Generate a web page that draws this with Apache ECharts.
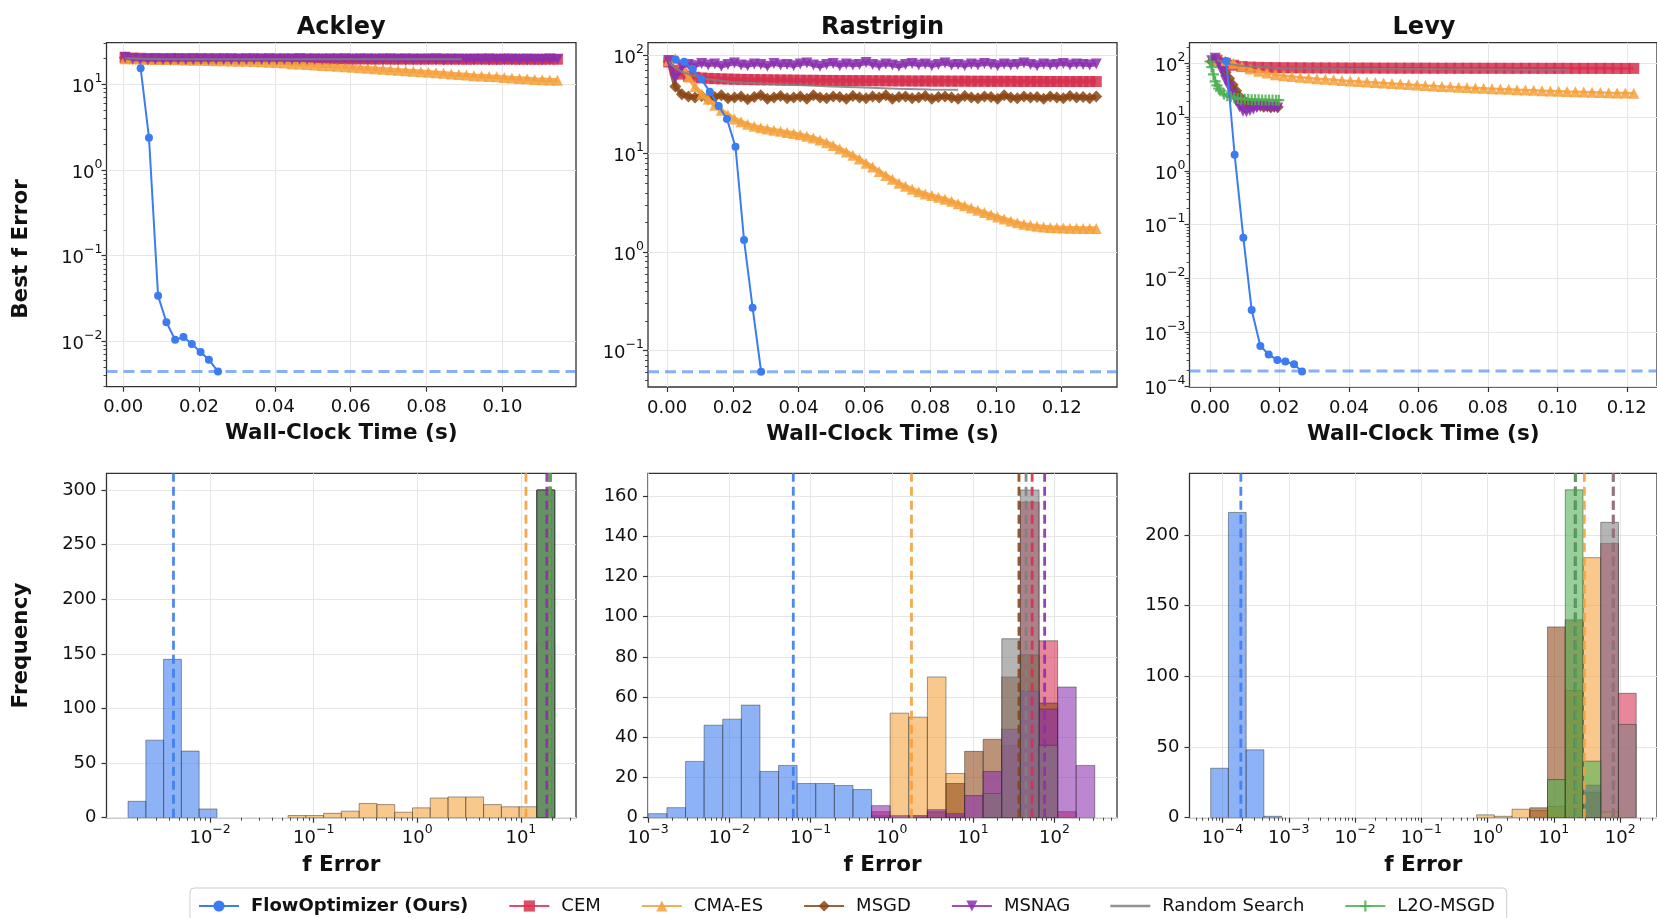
<!DOCTYPE html>
<html>
<head>
<meta charset="utf-8">
<title>Optimizer comparison: Ackley, Rastrigin, Levy</title>
<script src="https://cdn.jsdelivr.net/npm/echarts@6/dist/echarts.min.js"></script>
<style>
  html, body { margin: 0; padding: 0; background: #ffffff; }
  #chart { width: 1657px; height: 918px; }
</style>
</head>
<body>
<div id="chart"></div>
<script>
// ---------------- Methods ----------------
const methods = ['FlowOptimizer (Ours)', 'CEM', 'CMA-ES', 'MSGD', 'MSNAG', 'Random Search', 'L2O-MSGD'];
const problems = ['Ackley', 'Rastrigin', 'Levy'];

// ---------------- Convergence traces (time in s, best f error) ----------------
const sharedTime = [
  0.0005, 0.0025, 0.0045, 0.0065, 0.0085, 0.0105, 0.0125, 0.0145, 0.0165, 0.0185,
  0.0205, 0.0225, 0.0245, 0.0265, 0.0285, 0.0305, 0.0325, 0.0345, 0.0365, 0.0385,
  0.0405, 0.0425, 0.0445, 0.0465, 0.0485, 0.0505, 0.0525, 0.0545, 0.0565, 0.0585,
  0.0605, 0.0625, 0.0645, 0.0665, 0.0685, 0.0705, 0.0725, 0.0745, 0.0765, 0.0785,
  0.0805, 0.0825, 0.0845, 0.0865, 0.0885, 0.0905, 0.0925, 0.0945, 0.0965, 0.0985,
  0.1005, 0.1025, 0.1045, 0.1065, 0.1085, 0.1105, 0.1125, 0.1145, 0.1165, 0.1185,
  0.1205, 0.1225, 0.1245, 0.1265, 0.1285, 0.1305
];

// Ackley
const ackleyCEM = [
  20.4, 20.2, 20.1, 20.0, 20.0, 19.9, 20.0, 19.9, 19.9, 20.0,
  19.9, 19.9, 19.8, 19.9, 19.9, 19.8, 19.9, 19.8, 19.8, 19.9,
  19.8, 19.8, 19.8, 19.9, 19.8, 19.8, 19.7, 19.8, 19.8, 19.8,
  19.7, 19.8, 19.8, 19.7, 19.8, 19.7, 19.7, 19.8, 19.7, 19.7,
  19.7, 19.8, 19.7, 19.7, 19.7, 19.6, 19.7, 19.7, 19.7, 19.6,
  19.7, 19.7, 19.6, 19.7, 19.6, 19.6, 19.7, 19.6
];
const ackleyCMAES = [
  19.9, 19.8, 19.7, 19.6, 19.5, 19.5, 19.4, 19.3, 19.2, 19.1,
  19.0, 18.9, 18.8, 18.8, 18.7, 18.6, 18.5, 18.4, 18.3, 18.1,
  17.9, 17.7, 17.4, 17.2, 17.0, 16.8, 16.6, 16.4, 16.2, 16.0,
  15.8, 15.6, 15.4, 15.2, 15.0, 14.8, 14.6, 14.4, 14.2, 14.0,
  13.8, 13.6, 13.4, 13.2, 13.0, 12.8, 12.6, 12.5, 12.3, 12.2,
  12.0, 11.8, 11.7, 11.6, 11.4, 11.3, 11.2, 11.1
];
const ackleyMSGD = [
  20.5, 19.9, 19.7, 19.6, 19.7, 19.6, 19.5, 19.7, 19.6, 19.6,
  19.7, 19.5, 19.6, 19.7, 19.6, 19.5, 19.6, 19.7, 19.6, 19.6,
  19.5, 19.7, 19.6, 19.6, 19.5, 19.6, 19.7, 19.6, 19.5, 19.6,
  19.6, 19.7, 19.5, 19.6, 19.6, 19.7, 19.6, 19.5, 19.6, 19.6,
  19.7, 19.6, 19.5, 19.6, 19.6, 19.7, 19.6, 19.6, 19.5, 19.6,
  19.7, 19.6, 19.6, 19.5, 19.6, 19.6, 19.6
];
const ackleyMSNAG = [
  20.6, 19.9, 19.6, 19.5, 19.6, 19.4, 19.5, 19.6, 19.4, 19.5,
  19.5, 19.4, 19.6, 19.5, 19.4, 19.5, 19.5, 19.6, 19.4, 19.5,
  19.5, 19.4, 19.5, 19.6, 19.5, 19.4, 19.5, 19.5, 19.4, 19.6,
  19.5, 19.5, 19.4, 19.5, 19.5, 19.6, 19.4, 19.5, 19.5, 19.4,
  19.5, 19.6, 19.5, 19.4, 19.5, 19.5, 19.4, 19.5, 19.6, 19.5,
  19.4, 19.5, 19.5, 19.4, 19.5, 19.5, 19.6, 19.5
];
const ackleyL2O = [20.3, 20.0, 19.9, 19.8, 19.8, 19.7, 19.7, 19.7, 19.6, 19.6];
const ackleyRandomTime = [0.0005, 0.005, 0.01, 0.02, 0.03, 0.04, 0.05, 0.06, 0.07, 0.08, 0.0893];
const ackleyRandom = [20.1, 19.8, 19.7, 19.6, 19.6, 19.6, 19.6, 19.6, 19.6, 19.6, 19.6];
const ackleyFlowTime = [0.0046, 0.0068, 0.0092, 0.0114, 0.0137, 0.0159, 0.0181, 0.0204, 0.0226, 0.0250];
const ackleyFlow = [15.4, 2.38, 0.0339, 0.0167, 0.0104, 0.0112, 0.0093, 0.0075, 0.0061, 0.00443];

// Rastrigin
const rastriginCEM = [
  85, 70, 64, 61, 59.5, 58.5, 58, 57.6, 57.3, 57,
  56.8, 56.6, 56.4, 56.2, 56.1, 56, 55.9, 55.8, 55.7, 55.6,
  55.5, 55.4, 55.4, 55.3, 55.2, 55.2, 55.1, 55, 55, 54.9,
  54.9, 54.8, 54.8, 54.7, 54.7, 54.6, 54.6, 54.5, 54.5, 54.5,
  54.4, 54.4, 54.4, 54.3, 54.3, 54.3, 54.2, 54.2, 54.2, 54.1,
  54.1, 54.1, 54.1, 54, 54, 54, 54, 53.9, 53.9, 53.9,
  53.9, 53.8, 53.8, 53.8, 53.8, 53.8
];
const rastriginCMAES = [
  88, 92, 75, 60, 48, 40, 35.5, 31, 27.5, 24.6,
  22.5, 21, 19.8, 18.9, 18.3, 17.8, 17.3, 16.9, 16.4, 16.0,
  15.5, 15.0, 14.4, 13.7, 12.9, 12.1, 11.2, 10.4, 9.6, 8.8,
  8.0, 7.3, 6.6, 6.0, 5.5, 5.0, 4.65, 4.35, 4.1, 3.9,
  3.75, 3.6, 3.45, 3.28, 3.1, 2.95, 2.8, 2.66, 2.52, 2.4,
  2.28, 2.17, 2.07, 1.99, 1.92, 1.87, 1.83, 1.8, 1.78, 1.77,
  1.76, 1.75, 1.75, 1.74, 1.74, 1.74
];
const rastriginMSGD = [
  86, 48, 40, 38, 37, 38.5, 36, 37.5, 39, 36.5,
  37, 38, 35.5, 37.5, 39, 36, 37, 38.5, 36.5, 37,
  38, 36, 39, 37, 36.5, 38, 37.5, 36, 38.5, 37,
  36.5, 38, 37, 39, 36, 37.5, 38, 36.5, 37, 38.5,
  36, 37.5, 38, 37, 36, 38.5, 37, 36.5, 38, 37.5,
  36, 39, 37, 36.5, 38, 37, 37.5, 36, 38, 37,
  36.5, 38.5, 37, 37.5, 36.5, 38
];
const rastriginMSNAG = [
  88, 58, 76, 80, 78, 82, 79, 81, 77, 80,
  83, 79, 78, 81, 80, 77, 82, 79, 80, 78,
  81, 83, 79, 77, 80, 82, 78, 81, 79, 80,
  84, 80, 78, 81, 79, 77, 80, 82, 79, 81,
  78, 80, 83, 79, 80, 78, 81, 79, 82, 80,
  78, 81, 79, 80, 83, 80, 78, 81, 79, 80,
  82, 79, 81, 80, 79, 81
];
const rastriginRandomTime = [0.0005, 0.002, 0.004, 0.007, 0.012, 0.02, 0.03, 0.04, 0.05, 0.06, 0.07, 0.08, 0.0885];
const rastriginRandom = [86, 76, 69, 63, 57, 53, 51, 49.5, 48, 46.8, 45.6, 44.8, 44.3];
const rastriginFlowTime = [0.0026, 0.0052, 0.0078, 0.0104, 0.0130, 0.0157, 0.0182, 0.0208, 0.0234, 0.0260, 0.0286];
const rastriginFlow = [90, 85.5, 72, 57, 42.5, 30.4, 22.4, 11.7, 1.33, 0.273, 0.0612];

// Levy
const levyTime = [
  0.0020, 0.0044, 0.0068, 0.0092, 0.0116, 0.0140, 0.0164, 0.0188, 0.0212, 0.0236,
  0.0260, 0.0284, 0.0308, 0.0332, 0.0356, 0.0380, 0.0404, 0.0428, 0.0452, 0.0476,
  0.0500, 0.0524, 0.0548, 0.0572, 0.0596, 0.0620, 0.0644, 0.0668, 0.0692, 0.0716,
  0.0740, 0.0764, 0.0788, 0.0812, 0.0836, 0.0860, 0.0884, 0.0908, 0.0932, 0.0956,
  0.0980, 0.1004, 0.1028, 0.1052, 0.1076, 0.1100, 0.1124, 0.1148, 0.1172, 0.1196,
  0.1220
];
const levyCEM = [
  115, 100, 92, 87, 85, 84, 83.4, 83, 82.7, 82.5,
  82.3, 82.1, 82, 81.9, 81.8, 81.7, 81.6, 81.5, 81.5, 81.4,
  81.3, 81.3, 81.2, 81.2, 81.1, 81.1, 81, 81, 81, 80.9,
  80.9, 80.9, 80.8, 80.8, 80.8, 80.7, 80.7, 80.7, 80.7, 80.6,
  80.6, 80.6, 80.6, 80.5, 80.5, 80.5, 80.5, 80.5, 80.4, 80.4,
  80.4
];
const levyCMAES = [
  118, 112, 100, 88, 78, 71, 66, 61.2, 58.7, 56.6,
  54.8, 53.2, 51.7, 50.4, 49.2, 48.1, 47, 46, 45, 44,
  43, 42, 41.1, 40.2, 39.4, 38.6, 37.9, 37.2, 36.5, 35.9,
  35.3, 34.8, 34.3, 33.8, 33.3, 32.8, 32.3, 31.8, 31.4, 31,
  30.6, 30.2, 29.8, 29.5, 29.2, 28.9, 28.6, 28.3, 28.1, 27.9,
  27.7
];
const levyShortTime = [
  0.0005, 0.0015, 0.0025, 0.0035, 0.0045, 0.0055, 0.0065, 0.0075, 0.0085, 0.0095,
  0.0105, 0.0115, 0.0125, 0.0135, 0.0145, 0.0155, 0.0165, 0.0175, 0.0185, 0.0195
];
const levyMSGD = [108, 118, 112, 90, 68, 52, 40, 31, 24, 20.5, 18.5, 17.4, 16.8, 16.2, 16.6, 15.6, 16.1, 15.2, 15.8, 15.4];
const levyMSNAG = [112, 124, 100, 70, 48, 36, 27, 20, 15.5, 12.8, 12.5, 13.2, 14.2, 15, 15.6, 15.9, 15.3, 14.9, 15.2, 14.8];
const levyL2OTime = [
  0.0000, 0.0005, 0.0010, 0.0015, 0.0020, 0.0025, 0.0030, 0.0040, 0.0050, 0.0060,
  0.0070, 0.0080, 0.0090, 0.0100, 0.0110, 0.0120, 0.0130, 0.0140, 0.0150, 0.0160,
  0.0170, 0.0180, 0.0190, 0.0198
];
const levyL2O = [
  108, 85, 62, 46, 39, 34, 31, 27, 25, 23.8,
  22.8, 22.2, 21.8, 21.5, 21.3, 21.1, 21.0, 20.9, 20.8, 20.8,
  20.7, 20.7, 20.6, 20.6
];
const levyRandomTime = [0.002, 0.005, 0.01, 0.02, 0.04, 0.06, 0.08, 0.1035];
const levyRandom = [115, 98, 88, 82, 79, 78, 77, 76];
const levyFlowTime = [0.0047, 0.0071, 0.0096, 0.0120, 0.0145, 0.0169, 0.0194, 0.0217, 0.0242, 0.0265];
const levyFlow = [110, 1.99, 0.0573, 0.00258, 0.000556, 0.000384, 0.000305, 0.000284, 0.000254, 0.000185];

// ---------------- Final-error histograms (log10 bin edges, counts per bin) ----------------
const ackleyBinExp = [-2.792, -2.620, -2.449, -2.277, -2.106, -1.934, -1.762, -1.591, -1.419, -1.248, -1.076, -0.904, -0.733, -0.561, -0.390, -0.218, -0.046, 0.125, 0.297, 0.468, 0.640, 0.812, 0.983, 1.155, 1.326];
const rastriginBinExp = [-2.996, -2.767, -2.538, -2.310, -2.081, -1.852, -1.623, -1.394, -1.166, -0.937, -0.708, -0.479, -0.250, -0.022, 0.207, 0.436, 0.665, 0.894, 1.122, 1.351, 1.580, 1.809, 2.038, 2.266, 2.495];
const levyBinExp = [-4.178, -3.911, -3.643, -3.376, -3.108, -2.841, -2.573, -2.306, -2.038, -1.771, -1.503, -1.236, -0.968, -0.701, -0.433, -0.166, 0.102, 0.369, 0.637, 0.904, 1.172, 1.439, 1.707, 1.974, 2.242];

const ackleyFlowCounts  = [15, 71, 145, 61, 8, 0, 0, 0, 0, 0, 0, 0, 0, 0, 0, 0, 0, 0, 0, 0, 0, 0, 0, 0];
const ackleyCEMCounts   = [0, 0, 0, 0, 0, 0, 0, 0, 0, 0, 0, 0, 0, 0, 0, 0, 0, 0, 0, 0, 0, 0, 0, 300];
const ackleyCMACounts   = [0, 0, 0, 0, 0, 0, 0, 0, 0, 2, 2, 4, 6, 13, 12, 5, 9, 18, 19, 19, 12, 10, 10, 160];
const ackleyMSGDCounts  = [0, 0, 0, 0, 0, 0, 0, 0, 0, 0, 0, 0, 0, 0, 0, 0, 0, 0, 0, 0, 0, 0, 0, 300];
const ackleyMSNAGCounts = [0, 0, 0, 0, 0, 0, 0, 0, 0, 0, 0, 0, 0, 0, 0, 0, 0, 0, 0, 0, 0, 0, 0, 300];
const ackleyRandomCounts= [0, 0, 0, 0, 0, 0, 0, 0, 0, 0, 0, 0, 0, 0, 0, 0, 0, 0, 0, 0, 0, 0, 0, 300];
const ackleyL2OCounts   = [0, 0, 0, 0, 0, 0, 0, 0, 0, 0, 0, 0, 0, 0, 0, 0, 0, 0, 0, 0, 0, 0, 0, 300];

const rastriginFlowCounts  = [2, 5, 28, 46, 49, 56, 23, 26, 17, 17, 16, 14, 1, 0, 0, 0, 0, 0, 0, 0, 0, 0, 0, 0];
const rastriginCEMCounts   = [0, 0, 0, 0, 0, 0, 0, 0, 0, 0, 0, 0, 3, 0, 1, 0, 1, 0, 11, 36, 157, 88, 3, 0];
const rastriginCMACounts   = [0, 0, 0, 0, 0, 0, 0, 0, 0, 0, 0, 0, 0, 52, 50, 70, 22, 0, 0, 0, 0, 0, 0, 0];
const rastriginMSGDCounts  = [0, 0, 0, 0, 0, 0, 0, 0, 0, 0, 0, 0, 0, 0, 0, 3, 17, 33, 39, 70, 81, 57, 0, 0];
const rastriginMSNAGCounts = [0, 0, 0, 0, 0, 0, 0, 0, 0, 0, 0, 0, 6, 1, 1, 4, 2, 11, 23, 44, 63, 54, 65, 26];
const rastriginRandomCounts= [0, 0, 0, 0, 0, 0, 0, 0, 0, 0, 0, 0, 0, 0, 0, 0, 0, 0, 12, 89, 163, 36, 0, 0];

const levyFlowCounts  = [35, 216, 48, 1, 0, 0, 0, 0, 0, 0, 0, 0, 0, 0, 0, 0, 0, 0, 0, 0, 0, 0, 0, 0];
const levyCEMCounts   = [0, 0, 0, 0, 0, 0, 0, 0, 0, 0, 0, 0, 0, 0, 0, 0, 0, 0, 0, 0, 0, 0, 194, 88];
const levyCMACounts   = [0, 0, 0, 0, 0, 0, 0, 0, 0, 0, 0, 0, 0, 0, 0, 2, 1, 6, 5, 8, 90, 184, 4, 0];
const levyMSGDCounts  = [0, 0, 0, 0, 0, 0, 0, 0, 0, 0, 0, 0, 0, 0, 0, 0, 0, 0, 7, 135, 140, 18, 0, 0];
const levyMSNAGCounts = [0, 0, 0, 0, 0, 0, 0, 0, 0, 0, 0, 0, 0, 0, 0, 0, 0, 0, 0, 0, 0, 23, 0, 0];
const levyRandomCounts= [0, 0, 0, 0, 0, 0, 0, 0, 0, 0, 0, 0, 0, 0, 0, 0, 0, 0, 0, 0, 0, 0, 209, 66];
const levyL2OCounts   = [0, 0, 0, 0, 0, 0, 0, 0, 0, 0, 0, 0, 0, 0, 0, 0, 0, 0, 0, 27, 232, 40, 0, 0];

// Mean final error per method (same order as `methods`; null = not run)
const ackleyMeans    = [0.00443, 19.0, 11.2, 19.2, 17.8, 19.1, 19.1];
const rastriginMeans = [0.0612, 53.0, 1.74, 36.5, 75.5, 44.6, null];
const levyMeans      = [0.000189, 78.7, 28.8, 21.0, 21.2, 78.7, 21.3];

// ---------------- Tick values ----------------
const ackleyTimeTicks = [0, 0.02, 0.04, 0.06, 0.08, 0.10];
const rastriginTimeTicks = [0, 0.02, 0.04, 0.06, 0.08, 0.10, 0.12];
const levyTimeTicks = [0, 0.02, 0.04, 0.06, 0.08, 0.10, 0.12];
const ackleyErrDecades = [-2, -1, 0, 1];
const rastriginErrDecades = [-1, 0, 1, 2];
const levyErrDecades = [-4, -3, -2, -1, 0, 1, 2];
const ackleyHistDecades = [-2, -1, 0, 1];
const rastriginHistDecades = [-3, -2, -1, 0, 1, 2];
const levyHistDecades = [-4, -3, -2, -1, 0, 1, 2];
const ackleyFreqTicks = [0, 50, 100, 150, 200, 250, 300];
const rastriginFreqTicks = [0, 20, 40, 60, 80, 100, 120, 140, 160];
const levyFreqTicks = [0, 50, 100, 150, 200];

// ---------------- Layout and style ----------------
const FONT = 'DejaVu Sans';
const INK = '#111111';
const SPINE = '#333333';
const GRIDLINE = '#e6e6e6';
const colors = ['#3b7cf0', '#d7304f', '#f4a03a', '#8b4513', '#8b2fb0', '#808080', '#4caf50'];
const symbols = ['circle', 'rect', 'triangle', 'diamond', 'triangle', 'none', 'path://M0,4H10V6H0Z M4,0H6V10H4Z'];
const symbolRotations = [0, 0, 0, 0, 180, 0, 0];
const symbolSizes = [8, 11, 11, 12, 11, 0, 11];
const drawZ = [9, 3, 4, 2, 5, 6, 7];
// dense traces (Ackley, Rastrigin) are drawn with a heavier stroke than the sparser Levy ones
const panelStroke = [4.5, 4.5, 2.5];

const boxes = [
  { left: 106.5, top: 42.7, width: 469.5, height: 344 },
  { left: 648, top: 42.7, width: 469, height: 344.3 },
  { left: 1189.5, top: 42.7, width: 469, height: 344.3 },
  { left: 106.5, top: 473.3, width: 469.5, height: 344.4 },
  { left: 648, top: 473.3, width: 469, height: 344.4 },
  { left: 1189.5, top: 473.3, width: 469, height: 344.4 }
];
// axis limits: time (s) for the top row, log10 error for top y and bottom x, counts for bottom y
const timeLimits = [[-0.0044, 0.1194], [-0.0058, 0.1368], [-0.0059, 0.1287]];
const errExpLimits = [[-2.530, 1.485], [-1.368, 2.125], [-4.019, 2.383]];
const histExpLimits = [[-3.0, 1.532], [-3.0, 2.768], [-4.498, 2.556]];
const freqMax = [315.4, 171.3, 243.7];

// ---------------- Helpers ----------------
function pairs(xs, ys) { return ys.map((y, i) => [xs[i], y]); }
function minorExps(lim) {
  const out = [];
  for (let d = Math.floor(lim[0]); d <= Math.ceil(lim[1]); d++) {
    for (let k = 2; k <= 9; k++) {
      const v = d + Math.log10(k);
      if (v >= lim[0] && v <= lim[1]) out.push(v);
    }
  }
  return out;
}
function decadeLabel(v) {
  const e = Math.round(v);
  return '{b|10}{s|' + (e < 0 ? '\u2212' + (-e) : String(e)) + '}';
}
const decadeRich = {
  b: { fontSize: 18, fontFamily: FONT, color: INK, lineHeight: 24, verticalAlign: 'bottom' },
  s: { fontSize: 12.5, fontFamily: FONT, color: INK, lineHeight: 13, verticalAlign: 'top' }
};
const majorTick = (vals) => ({ show: true, inside: false, length: 5, customValues: vals, lineStyle: { color: SPINE, width: 1.2 } });
const minorTick = (vals) => ({ show: true, inside: false, length: 3, customValues: vals, lineStyle: { color: SPINE, width: 0.9 } });
const noLine = { show: false, onZero: false };
const gridLine = { show: true, lineStyle: { color: GRIDLINE, width: 1 } };
const nameStyle = { fontSize: 21.5, fontWeight: 'bold', fontFamily: FONT, color: INK };

const grids = boxes.map(b => Object.assign({ show: true, borderColor: SPINE, borderWidth: 1.3, backgroundColor: 'transparent', containLabel: false }, b));

const xAxes = [];
const yAxes = [];
// top row: linear time x, hidden log y used by the data, plus decade / minor tick axes
const timeTickSets = [ackleyTimeTicks, rastriginTimeTicks, levyTimeTicks];
const errDecadeSets = [ackleyErrDecades, rastriginErrDecades, levyErrDecades];
for (let p = 0; p < 3; p++) {
  const tl = timeLimits[p], el = errExpLimits[p];
  xAxes.push({
    type: 'value', gridIndex: p, position: 'bottom', min: tl[0], max: tl[1],
    axisLine: noLine, axisTick: majorTick(timeTickSets[p]),
    axisLabel: { customValues: timeTickSets[p], formatter: v => v.toFixed(2), margin: 12, fontSize: 18, fontFamily: FONT, color: INK },
    splitLine: gridLine,
    name: 'Wall-Clock Time (s)', nameLocation: 'middle', nameGap: 36, nameTextStyle: nameStyle
  });
  yAxes.push({ type: 'log', gridIndex: p, position: 'left', min: Math.pow(10, el[0]), max: Math.pow(10, el[1]), show: false, axisLine: noLine });
  yAxes.push({
    type: 'value', gridIndex: p, position: 'left', min: el[0], max: el[1],
    axisLine: noLine, axisTick: majorTick(errDecadeSets[p]),
    axisLabel: { customValues: errDecadeSets[p], formatter: decadeLabel, rich: decadeRich, margin: 4 },
    splitLine: gridLine
  });
  yAxes.push({
    type: 'value', gridIndex: p, position: 'left', min: el[0], max: el[1],
    axisLine: noLine, axisTick: minorTick(minorExps(el)), axisLabel: { show: false }, splitLine: { show: false }
  });
}
// bottom row: hidden log x used by the bars, decade / minor tick axes, linear frequency y
const histDecadeSets = [ackleyHistDecades, rastriginHistDecades, levyHistDecades];
const freqTickSets = [ackleyFreqTicks, rastriginFreqTicks, levyFreqTicks];
for (let q = 0; q < 3; q++) {
  const g = 3 + q, hl = histExpLimits[q];
  xAxes.push({ type: 'log', gridIndex: g, position: 'bottom', min: Math.pow(10, hl[0]), max: Math.pow(10, hl[1]), show: false, axisLine: noLine });
  xAxes.push({
    type: 'value', gridIndex: g, position: 'bottom', min: hl[0], max: hl[1],
    axisLine: noLine, axisTick: majorTick(histDecadeSets[q]),
    axisLabel: { customValues: histDecadeSets[q], formatter: decadeLabel, rich: decadeRich, margin: 6 },
    splitLine: gridLine,
    name: 'f Error', nameLocation: 'middle', nameGap: 37, nameTextStyle: nameStyle
  });
  xAxes.push({
    type: 'value', gridIndex: g, position: 'bottom', min: hl[0], max: hl[1],
    axisLine: noLine, axisTick: minorTick(minorExps(hl)), axisLabel: { show: false }, splitLine: { show: false }
  });
  yAxes.push({
    type: 'value', gridIndex: g, position: 'left', min: 0, max: freqMax[q],
    axisLine: noLine, axisTick: majorTick(freqTickSets[q]),
    axisLabel: { customValues: freqTickSets[q], margin: 10, fontSize: 18, fontFamily: FONT, color: INK },
    splitLine: gridLine
  });
}

// ---------------- Series ----------------
const series = [];
function trace(m, p, xs, ys, zOverride) {
  const color = colors[m];
  const hasSym = symbols[m] !== 'none';
  series.push({
    type: 'line', name: methods[m], xAxisIndex: p, yAxisIndex: p * 3,
    data: pairs(xs, ys),
    symbol: symbols[m], symbolSize: symbolSizes[m], symbolRotate: symbolRotations[m],
    showSymbol: hasSym, showAllSymbol: true,
    lineStyle: { color: color, width: (m === 0 || m === 5) ? 2 : panelStroke[p], opacity: m === 0 ? 1 : 0.85 },
    itemStyle: { color: color, opacity: m === 0 ? 1 : 0.85 },
    z: zOverride != null ? zOverride : drawZ[m], silent: true, animation: false, clip: true,
    emphasis: { disabled: true }
  });
}
function flowMeanLine(p, value) {
  const tl = timeLimits[p];
  series.push({
    type: 'line', name: 'FlowOptimizer final mean', xAxisIndex: p, yAxisIndex: p * 3,
    data: [[tl[0], value], [tl[1], value]], symbol: 'none',
    lineStyle: { color: 'rgba(59,124,240,0.6)', width: 3, type: [11, 6] },
    z: 8, silent: true, animation: false, emphasis: { disabled: true }
  });
}

// Ackley traces (the short L2O-MSGD trace sits underneath the flat bundle)
trace(6, 0, sharedTime, ackleyL2O, 1);
trace(1, 0, sharedTime, ackleyCEM);
trace(2, 0, sharedTime, ackleyCMAES);
trace(3, 0, sharedTime, ackleyMSGD);
trace(4, 0, sharedTime, ackleyMSNAG);
trace(5, 0, ackleyRandomTime, ackleyRandom);
trace(0, 0, ackleyFlowTime, ackleyFlow);
flowMeanLine(0, ackleyMeans[0]);
// Rastrigin traces
trace(1, 1, sharedTime, rastriginCEM);
trace(2, 1, sharedTime, rastriginCMAES);
trace(3, 1, sharedTime, rastriginMSGD);
trace(4, 1, sharedTime, rastriginMSNAG);
trace(5, 1, rastriginRandomTime, rastriginRandom);
trace(0, 1, rastriginFlowTime, rastriginFlow);
flowMeanLine(1, rastriginMeans[0]);
// Levy traces
trace(1, 2, levyTime, levyCEM);
trace(2, 2, levyTime, levyCMAES);
trace(3, 2, levyShortTime, levyMSGD);
trace(4, 2, levyShortTime, levyMSNAG);
trace(5, 2, levyRandomTime, levyRandom);
trace(6, 2, levyL2OTime, levyL2O);
trace(0, 2, levyFlowTime, levyFlow);
flowMeanLine(2, levyMeans[0]);

// Histograms
function hexToRgba(hex, a) {
  const n = parseInt(hex.slice(1), 16);
  return 'rgba(' + ((n >> 16) & 255) + ',' + ((n >> 8) & 255) + ',' + (n & 255) + ',' + a + ')';
}
function binsToData(binExp, counts) {
  const out = [];
  counts.forEach((c, i) => { if (c > 0) out.push([Math.pow(10, binExp[i]), Math.pow(10, binExp[i + 1]), c]); });
  return out;
}
function histPanel(q, binExp, countSets, means) {
  const xi = 3 + q * 3, yi = 9 + q;
  countSets.forEach((counts, m) => {
    if (!counts) return;
    const fill = hexToRgba(colors[m], 0.58);
    series.push({
      type: 'custom', name: methods[m], xAxisIndex: xi, yAxisIndex: yi,
      data: binsToData(binExp, counts), encode: { x: [0, 1], y: 2 },
      renderItem: function (params, api) {
        const a = api.coord([api.value(0), api.value(2)]);
        const b = api.coord([api.value(1), 0]);
        return {
          type: 'rect',
          shape: { x: a[0], y: a[1], width: b[0] - a[0], height: b[1] - a[1] },
          style: { fill: fill, stroke: 'rgba(40,40,40,0.5)', lineWidth: 0.9 }
        };
      },
      z: 2, silent: true, animation: false, clip: true
    });
  });
  means.forEach((v, m) => {
    if (v == null) return;
    series.push({
      type: 'line', name: methods[m] + ' mean', xAxisIndex: xi, yAxisIndex: yi,
      data: [[v, 0], [v, freqMax[q]]], symbol: 'none',
      lineStyle: { color: colors[m], width: 2.8, type: [9, 5], opacity: 0.9 },
      z: 3, silent: true, animation: false, emphasis: { disabled: true }
    });
  });
}
histPanel(0, ackleyBinExp,
  [ackleyFlowCounts, ackleyCEMCounts, ackleyCMACounts, ackleyMSGDCounts, ackleyMSNAGCounts, ackleyRandomCounts, ackleyL2OCounts],
  ackleyMeans);
histPanel(1, rastriginBinExp,
  [rastriginFlowCounts, rastriginCEMCounts, rastriginCMACounts, rastriginMSGDCounts, rastriginMSNAGCounts, rastriginRandomCounts, null],
  rastriginMeans);
histPanel(2, levyBinExp,
  [levyFlowCounts, levyCEMCounts, levyCMACounts, levyMSGDCounts, levyMSNAGCounts, levyRandomCounts, levyL2OCounts],
  levyMeans);

// ---------------- Titles and shared axis labels ----------------
const titleStyle = { fontSize: 24, fontWeight: 'bold', fontFamily: FONT, fill: INK, align: 'center', verticalAlign: 'middle' };
const graphic = problems.map((t, p) => ({
  type: 'text', x: boxes[p].left + boxes[p].width / 2, y: 27.5, silent: true,
  style: Object.assign({ text: t }, titleStyle)
}));
graphic.push({ type: 'text', x: 21.5, y: 249, rotation: Math.PI / 2, silent: true,
  style: Object.assign({ text: 'Best f Error' }, nameStyle, { fill: INK, align: 'center', verticalAlign: 'middle' }) });
graphic.push({ type: 'text', x: 21.5, y: 645.5, rotation: Math.PI / 2, silent: true,
  style: Object.assign({ text: 'Frequency' }, nameStyle, { fill: INK, align: 'center', verticalAlign: 'middle' }) });

// plain line icon (no marker) for the random-search entry
const lineOnlyIcon = 'path://M0,0L0.01,0L0,0.01Z M40,14L39.99,14L40,13.99Z M0,5.8H40V8.2H0Z';

const chart = echarts.init(document.getElementById('chart'), null, { renderer: 'canvas' });
chart.setOption({
  animation: false,
  backgroundColor: '#ffffff',
  textStyle: { fontFamily: FONT },
  grid: grids,
  xAxis: xAxes,
  yAxis: yAxes,
  legend: {
    left: 190, top: 888, orient: 'horizontal',
    itemWidth: 40, itemHeight: 14, itemGap: 40,
    padding: [9, 12, 9, 8],
    borderColor: '#cccccc', borderWidth: 1, borderRadius: 4, backgroundColor: '#ffffff',
    textStyle: { fontSize: 18, fontFamily: FONT, color: INK, padding: [0, 0, 0, 7] },
    selectedMode: false,
    data: [
      { name: methods[0], textStyle: { fontWeight: 'bold' } },
      methods[1], methods[2], methods[3], methods[4],
      { name: methods[5], icon: lineOnlyIcon },
      methods[6]
    ]
  },
  graphic: graphic,
  series: series
});
</script>
</body>
</html>
